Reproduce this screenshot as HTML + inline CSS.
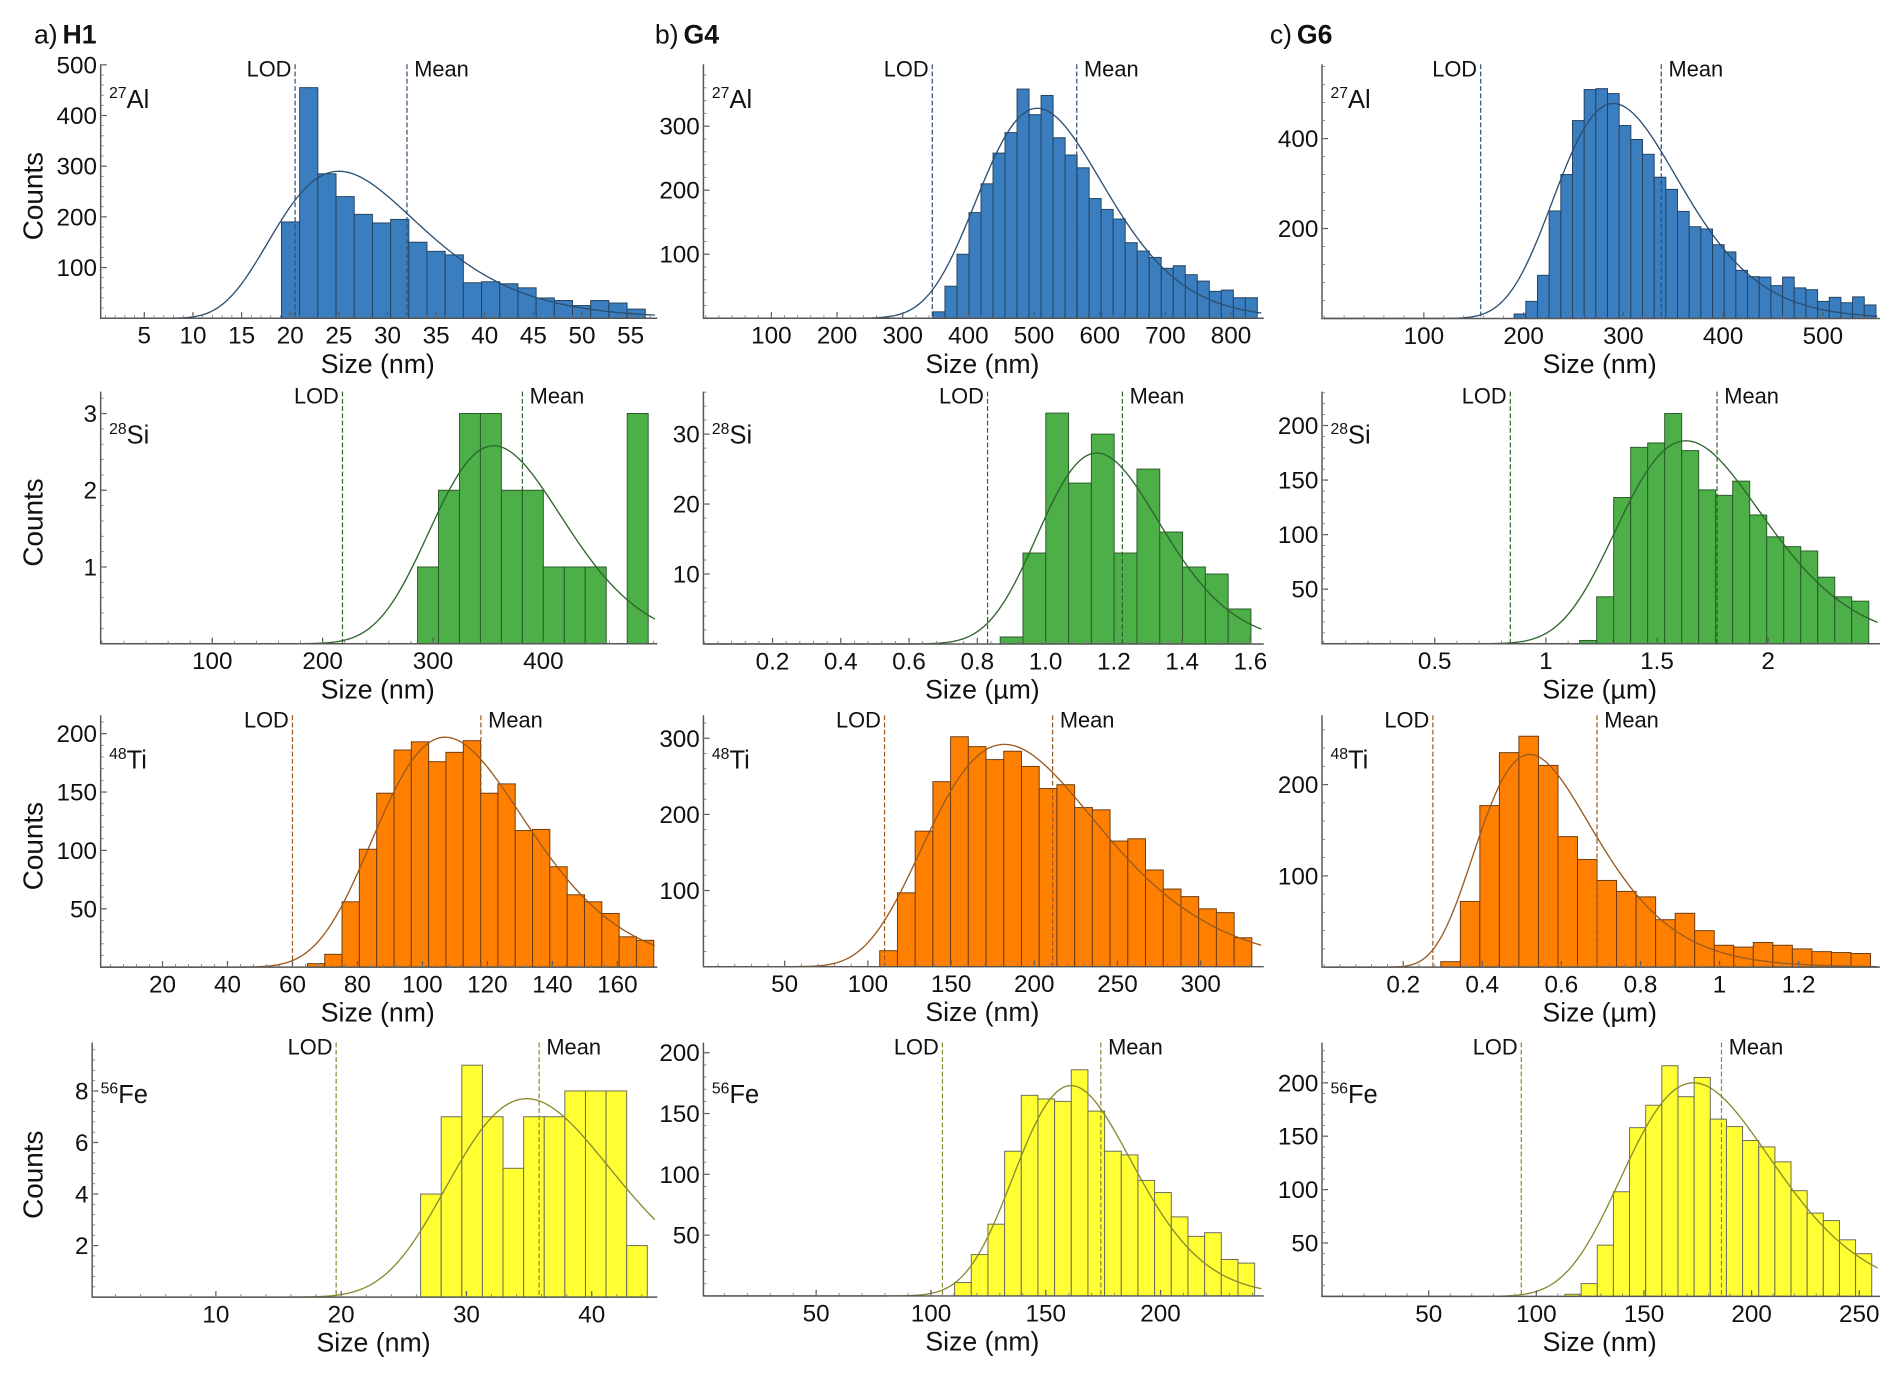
<!DOCTYPE html>
<html><head><meta charset="utf-8"><style>
html,body{margin:0;padding:0;background:#fff;}
svg{display:block;font-family:"Liberation Sans",Arial,sans-serif;}
</style></head><body>
<svg id="fig" width="1892" height="1382" viewBox="0 0 1560 1140" preserveAspectRatio="none" xmlns="http://www.w3.org/2000/svg"></svg>
<script>
// ---- data (order: a1,b1,c1,a2,b2,c2,a3,b3,c3,a4,b4,c4) ----
const alH1Counts=[190,455,285,240,205,188,195,150,132,125,70,72,68,60,40,35,25,35,30,18];
const alG4Counts=[10,50,100,165,210,258,290,358,318,348,282,255,235,187,170,155,118,105,95,78,82,68,58,42,44,32,32];
const alG6Counts=[10,38,96,239,320,440,509,511,500,429,398,365,314,287,238,204,199,164,148,107,93,92,73,92,68,64,38,47,35,48,30];
const siH1Counts=[1,2,3,3,2,2,1,1,1,0,3];
const siG4Counts=[1,13,33,23,30,13,25,16,11,10,5];
const siG6Counts=[3,43,134,180,184,211,177,141,136,149,118,98,89,85,61,43,39];
const tiH1Counts=[3,11,56,101,149,186,193,176,184,194,149,157,117,118,86,62,56,46,26,23];
const tiG4Counts=[21,97,178,243,302,289,272,283,263,234,239,209,206,165,168,127,102,92,76,71,38];
const tiG6Counts=[6,72,177,235,253,221,143,118,95,83,77,52,59,40,24,22,27,24,20,17,16,15];
const feH1Counts=[4,7,9,7,5,7,7,8,8,8,2];
const feG4Counts=[11,34,59,119,165,162,160,186,152,119,116,95,85,65,49,52,30,27];
const feG6Counts=[2,12,48,98,158,179,216,187,205,166,159,146,140,126,99,78,71,53,40];
const binStarts=[19.1,346,190.5,286,0.867,1.152,64.6,107.1,0.295,26.34,110.3,113.3];
const binWidths=[1.87,18.3,11.7,19,0.0668,0.0765,5.33,10.65,0.0494,1.645,7.26,7.5];
const lodValues=[20.5,345,157,218,0.83,0.84,60,110,0.275,19.6,105,93];
const meanValues=[32,565,338,381,1.225,1.77,118,211,0.69,35.8,174,186];
const fitModes=[25,505,290,355,1.15,1.63,107,182,0.52,34.8,161,173];
const fitPeaks=[290,328,478,2.58,27.3,186,197,292,233,7.7,173,200];
const fitSigmas=[0.3,0.19,0.215,0.169,0.155,0.2,0.217,0.284,0.285,0.188,0.16,0.2];
const xTickLabels=[
 ["5","10","15","20","25","30","35","40","45","50","55"],
 ["100","200","300","400","500","600","700","800"],
 ["100","200","300","400","500"],
 ["100","200","300","400"],
 ["0.2","0.4","0.6","0.8","1.0","1.2","1.4","1.6"],
 ["0.5","1","1.5","2"],
 ["20","40","60","80","100","120","140","160"],
 ["50","100","150","200","250","300"],
 ["0.2","0.4","0.6","0.8","1","1.2"],
 ["10","20","30","40"],
 ["50","100","150","200"],
 ["50","100","150","200","250"]];
const yTickLabels=[
 ["100","200","300","400","500"],["100","200","300"],["200","400"],
 ["1","2","3"],["10","20","30"],["50","100","150","200"],
 ["50","100","150","200"],["100","200","300"],["100","200"],
 ["2","4","6","8"],["50","100","150","200"],["50","100","150","200"]];
const allCounts=[alH1Counts,alG4Counts,alG6Counts,siH1Counts,siG4Counts,siG6Counts,tiH1Counts,tiG4Counts,tiG6Counts,feH1Counts,feG4Counts,feG6Counts];
const elements=["Al","Al","Al","Si","Si","Si","Ti","Ti","Ti","Fe","Fe","Fe"];
const isotopes=["27","27","27","28","28","28","48","48","48","56","56","56"];
const unitLabels=["nm","nm","nm","nm","µm","µm","nm","nm","µm","nm","nm","nm"];
const panelIds=["h1-al","g4-al","g6-al","h1-si","g4-si","g6-si","h1-ti","g4-ti","g6-ti","h1-fe","g4-fe","g6-fe"];

// ---- layout (display coordinates) ----
const layout=[
 {l:83,r:540,t:53,b:262.5,x0:78.9,xs:8.02,ys:0.418},
 {l:580,r:1040,t:53,b:262.5,x0:581.9,xs:0.5414,ys:0.528},
 {l:1090,r:1548,t:53,b:262.7,x0:1091.75,xs:0.8225,ys:0.371},
 {l:83,r:540,t:323,b:531,x0:84,xs:0.91,ys:63.3},
 {l:580,r:1040,t:323,b:531.2,x0:580.7,xs:281.4,ys:5.77},
 {l:1090,r:1548,t:323,b:531,x0:1091.3,xs:183.3,ys:0.9},
 {l:83,r:540,t:590,b:797.8,x0:80.4,xs:2.679,ys:0.963},
 {l:580,r:1040,t:590,b:797.4,x0:578.4,xs:1.372,ys:0.628},
 {l:1090,r:1548,t:590,b:797.8,x0:1091.8,xs:326,ys:0.753},
 {l:76,r:540,t:860,b:1070,x0:74.7,xs:10.33,ys:21.26},
 {l:580,r:1040,t:860,b:1069,x0:578.3,xs:1.893,ys:1.003},
 {l:1090,r:1548,t:860,b:1069.4,x0:1089.25,xs:1.775,ys:0.881}];
const labelOffsets=[36,43,44,50];
const styles=[
 {fill:"#3a7ebf",stroke:"#24435f",curve:"#2c4f72",dash:"#2c4f72"},
 {fill:"#4caf47",stroke:"#2b5a2b",curve:"#2d652d",dash:"#2d652d"},
 {fill:"#ff8000",stroke:"#6b3a10",curve:"#9a5a20",dash:"#9a5a20"},
 {fill:"#ffff33",stroke:"#6a6a5a",curve:"#8a8a30",dash:"#8a8a30"}];
const NS="http://www.w3.org/2000/svg";
const svg=document.getElementById('fig');
function mk(tag,attrs,parent){const e=document.createElementNS(NS,tag);for(const k in attrs)e.setAttribute(k,attrs[k]);(parent||svg).appendChild(e);return e;}
function fit(x,m,s,h){if(x<=0)return 0;const d=Math.log(x/m);return h*Math.exp(-d*d/(2*s*s));}

[["a)","H1",28],["b)","G4",540],["c)","G6",1047]].forEach(function(p){
 const t=mk('text',{x:p[2],y:36,'font-size':22,fill:'#111'});
 
 
 t.innerHTML=p[0]+'<tspan font-weight="bold" dx="4">'+p[1]+'</tspan>';
});

for(let i=0;i<12;i++){
 const L=layout[i],st=styles[Math.floor(i/3)],col=i%3,row=Math.floor(i/3);
 const g=mk('g',{});
 
 
 const X=v=>L.x0+v*L.xs, Y=v=>L.b-v*L.ys;
 const xmin=(L.l-L.x0)/L.xs, xmax=(L.r-L.x0)/L.xs;
 const counts=allCounts[i];
 counts.forEach(function(c,k){
  if(c<=0)return;
  const a=binStarts[i]+k*binWidths[i];
  const r=mk('rect',{x:X(a),y:Y(c),width:binWidths[i]*L.xs,height:c*L.ys,fill:st.fill,stroke:st.stroke,'stroke-width':0.8},g);
  
  
 });
 let d='';
 const N=240;
 for(let k=0;k<=N;k++){
  const xv=Math.max(xmin,1e-6)+(xmax-Math.max(xmin,1e-6))*k/N;
  const yv=fit(xv,fitModes[i],fitSigmas[i],fitPeaks[i]);
  d+=(k?'L':'M')+X(xv).toFixed(2)+','+Y(yv).toFixed(2);
 }
 const cp=mk('path',{d:d,fill:'none',stroke:st.curve,'stroke-width':1.1},g);
 
 
 const lx=X(lodValues[i]),mx=X(meanValues[i]);
 const ll=mk('line',{x1:lx,x2:lx,y1:L.t,y2:L.b,stroke:st.dash,'stroke-width':1,'stroke-dasharray':'4,2'},g);
 
 
 const ml=mk('line',{x1:mx,x2:mx,y1:L.t,y2:L.b,stroke:st.dash,'stroke-width':1,'stroke-dasharray':'4,2'},g);
 
 
 const lt=mk('text',{x:lx-3,y:L.t+10,'font-size':18,'text-anchor':'end',fill:'#111'},g);
 lt.textContent='LOD';
 
 
 const mt=mk('text',{x:mx+6,y:L.t+10,'font-size':18,fill:'#111'},g);
 mt.textContent='Mean';
 
 
 const ax=mk('path',{d:'M'+L.l+','+L.t+'V'+L.b+'H'+(L.r+2),fill:'none',stroke:'#555','stroke-width':1.2},g);
 
 
 xTickLabels[i].forEach(function(lbl){
  const v=parseFloat(lbl),px=X(v);
  mk('line',{x1:px,x2:px,y1:L.b,y2:L.b-5,stroke:'#555','stroke-width':1},g);
  const t=mk('text',{x:px,y:L.b+21,'font-size':20,'text-anchor':'middle',fill:'#111'},g);
  t.textContent=lbl;
  
  
 });
 const xv=xTickLabels[i].map(parseFloat),step=xv.length>1?xv[1]-xv[0]:1;
 for(let v=xv[0]-step;v<=xmax;v+=step/5){if(v<xmin)continue;const px=X(v);mk('line',{x1:px,x2:px,y1:L.b,y2:L.b-2.5,stroke:'#777','stroke-width':0.7},g);}
 const yv=yTickLabels[i].map(parseFloat),ystep=yv.length>1?yv[1]-yv[0]:1,ymax=(L.b-L.t)/L.ys;
 yTickLabels[i].forEach(function(lbl){
  const v=parseFloat(lbl),py=Y(v);
  mk('line',{x1:L.l,x2:L.l+5,y1:py,y2:py,stroke:'#555','stroke-width':1},g);
  const t=mk('text',{x:L.l-3,y:py+7,'font-size':20,'text-anchor':'end',fill:'#111'},g);
  t.textContent=lbl;
  
  
 });
 for(let v=ystep/5;v<=ymax;v+=ystep/5){const py=Y(v);mk('line',{x1:L.l,x2:L.l+2.5,y1:py,y2:py,stroke:'#777','stroke-width':0.7},g);}
 const el=mk('text',{x:L.l+7,y:L.t+labelOffsets[row],'font-size':21,fill:'#111'},g);
 el.innerHTML='<tspan font-size="13" dy="-8">'+isotopes[i]+'</tspan><tspan dy="8">'+elements[i]+'</tspan>';
 
 
 const xt=mk('text',{x:(L.l+L.r)/2,y:L.b+45,'font-size':22,'text-anchor':'middle',fill:'#111'},g);
 xt.textContent='Size ('+unitLabels[i]+')';
 
 
 if(col===0){
  const cy=(L.t+L.b)/2+4;
  const yt=mk('text',{x:0,y:0,'font-size':23,'text-anchor':'middle',fill:'#111',transform:'translate(35,'+cy+') rotate(-90)'},g);
  yt.textContent='Counts';
  
  
 }
}
</script>
</body></html>
